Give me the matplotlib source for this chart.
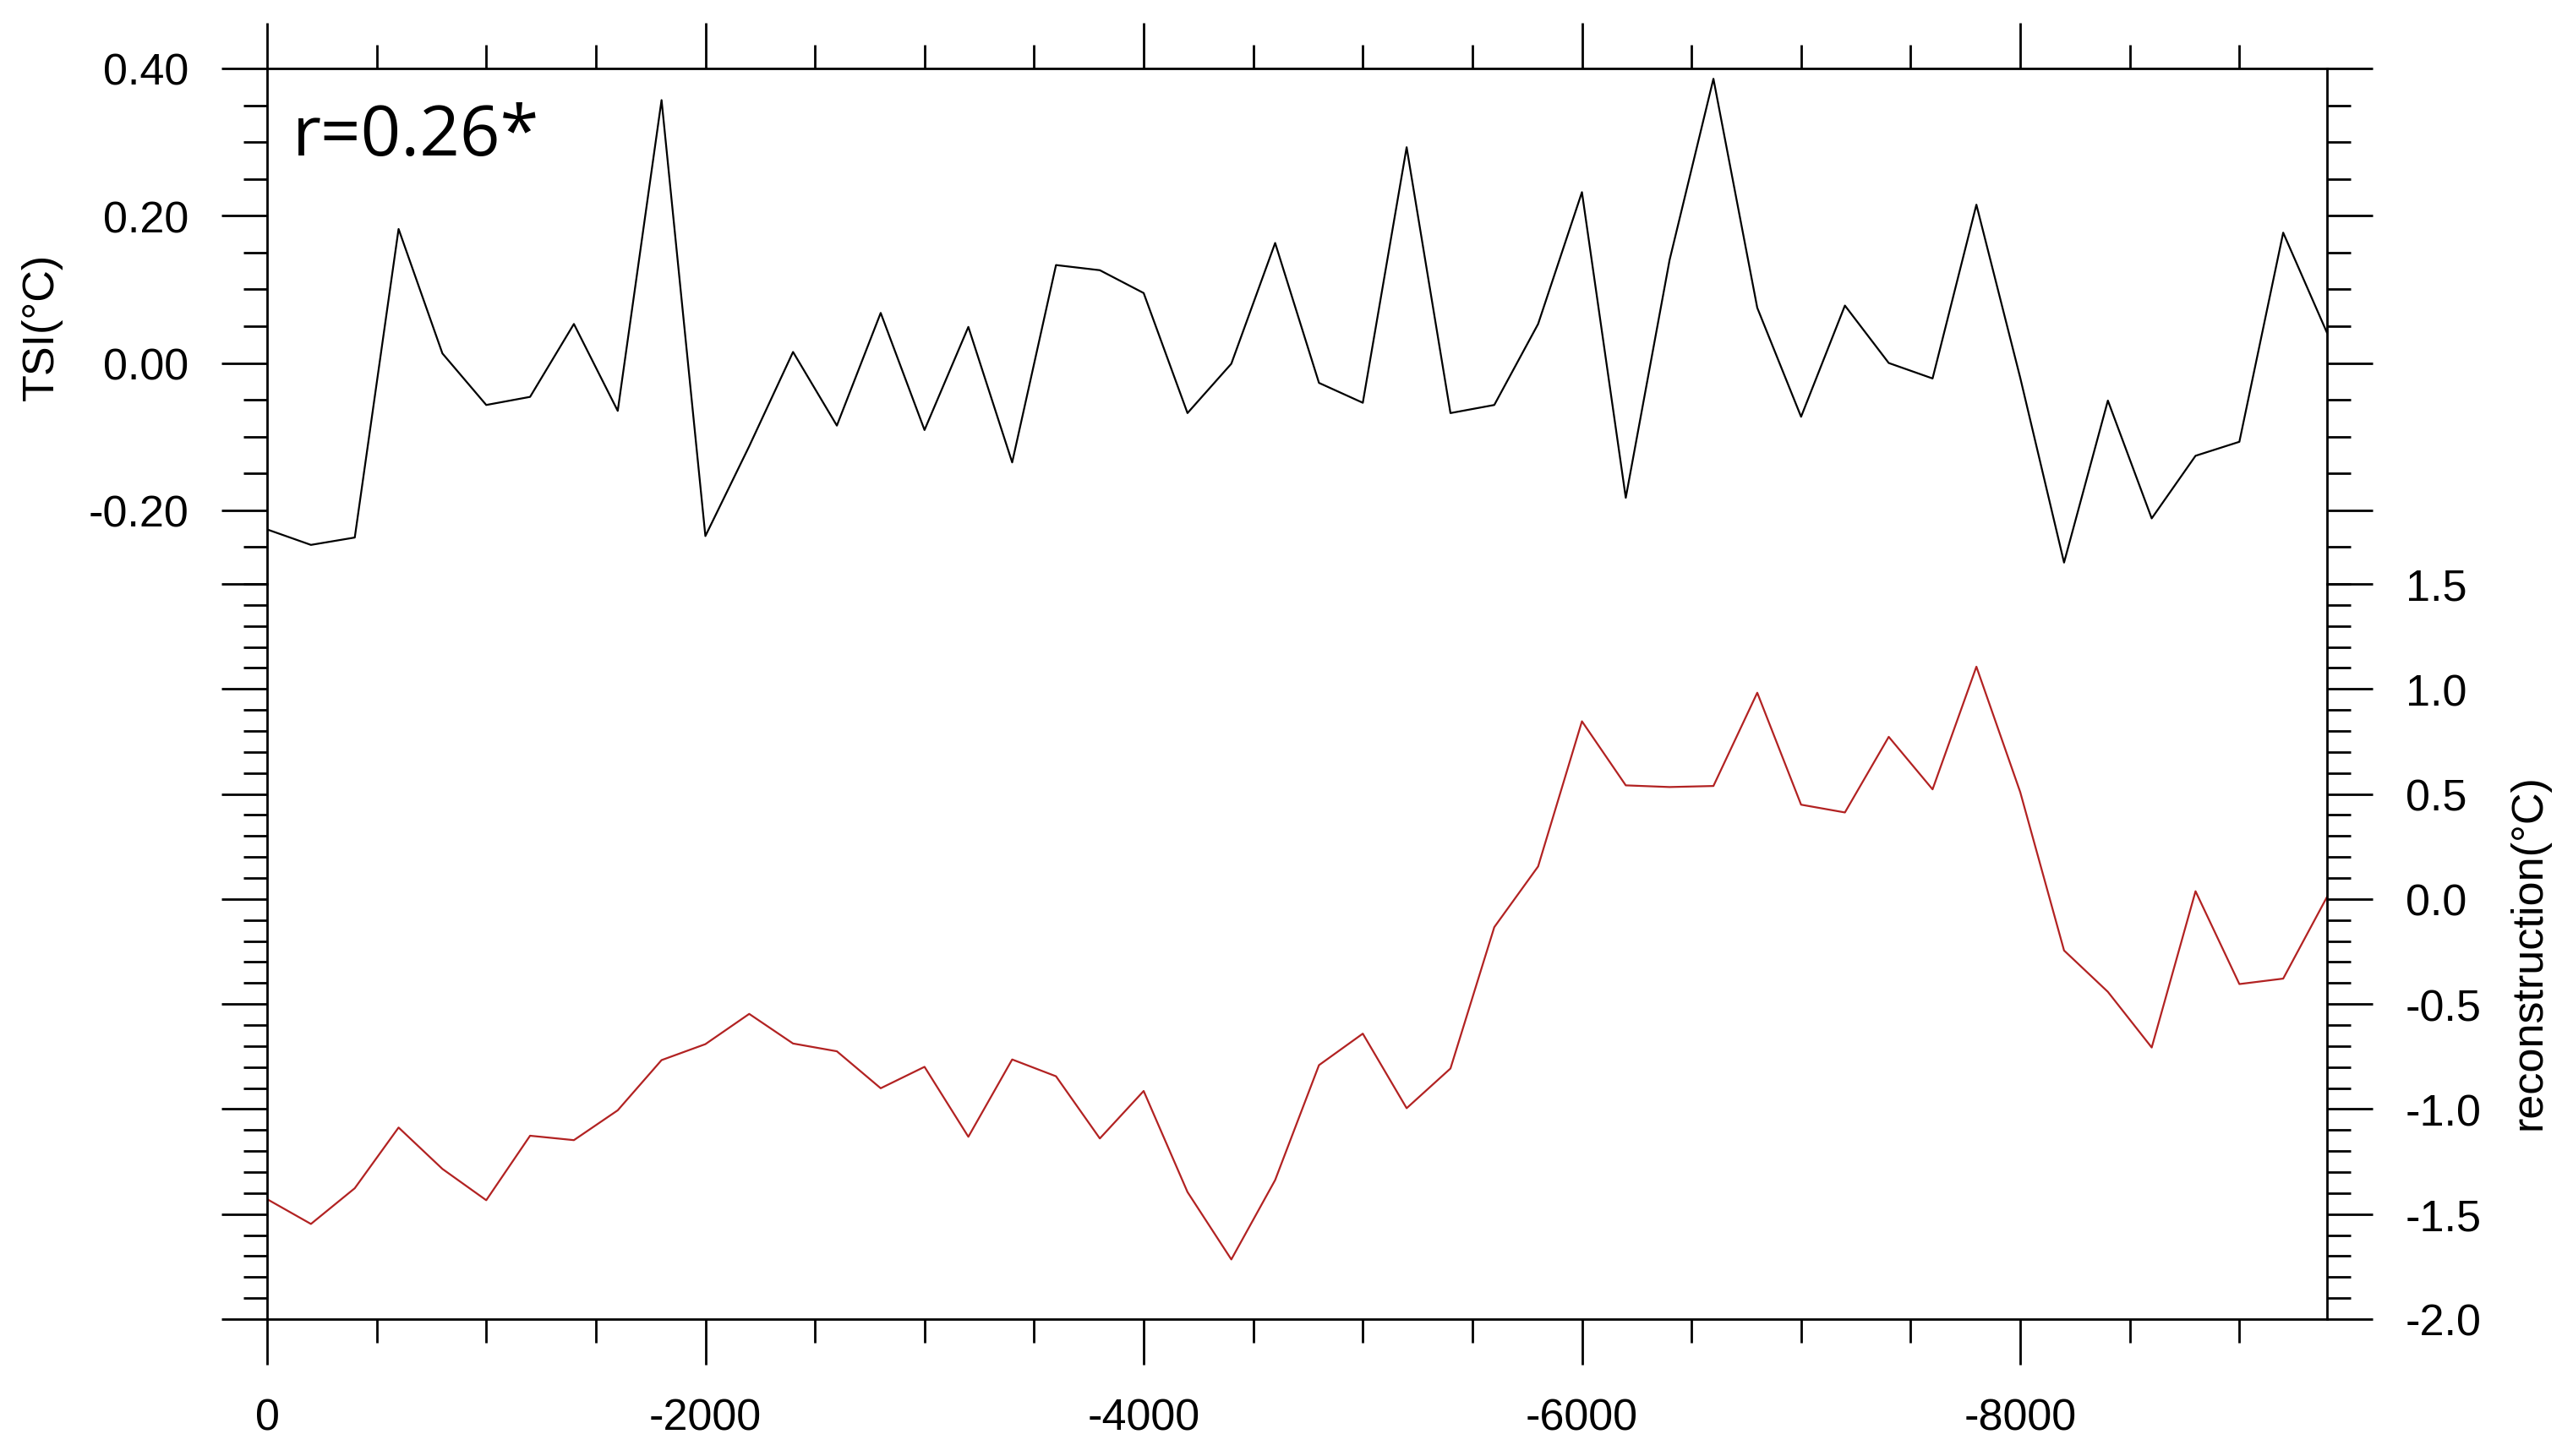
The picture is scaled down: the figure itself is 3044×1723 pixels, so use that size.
import matplotlib
matplotlib.use("Agg")
import matplotlib.pyplot as plt
import numpy as np
from matplotlib.ticker import MultipleLocator, FormatStrFormatter

plt.rcParams['font.family'] = ['Liberation Sans', 'DejaVu Sans']
plt.rcParams['axes.unicode_minus'] = False

# years (BP style, 0 to -9400 every 200 yr)
years = np.arange(0, -9401, -200)

# TSI-driven temperature (left axis)
tsi = [-0.226, -0.247, -0.237, 0.182, 0.013, -0.057, -0.046, 0.053, -0.065, 0.357,
       -0.235, -0.113, 0.015, -0.085, 0.068, -0.091, 0.049, -0.135, 0.133, 0.126,
       0.095, -0.068, -0.001, 0.163, -0.027, -0.054, 0.293, -0.068, -0.057, 0.053,
       0.232, -0.183, 0.140, 0.386, 0.075, -0.073, 0.078, 0.000, -0.021, 0.215,
       -0.020, -0.271, -0.051, -0.211, -0.126, -0.107, 0.177, 0.041]

# reconstruction (right axis)
recon = [-1.429, -1.547, -1.377, -1.088, -1.285, -1.434, -1.127, -1.148, -1.006, -0.767,
         -0.691, -0.547, -0.688, -0.725, -0.901, -0.799, -1.132, -0.764, -0.844, -1.140,
         -0.914, -1.395, -1.716, -1.338, -0.791, -0.641, -0.996, -0.807, -0.134, 0.155,
         0.846, 0.541, 0.533, 0.538, 0.982, 0.449, 0.412, 0.772, 0.522, 1.106,
         0.509, -0.245, -0.442, -0.707, 0.037, -0.405, -0.379, 0.010]

fs = 37.5
lw_ax = 2.0

fig = plt.figure(figsize=(30.44, 17.24), dpi=100)
left, width = 0.10381, 0.80059
ax1 = fig.add_axes([left, 0.59861, width, 0.35383])   # TSI part
ax2 = fig.add_axes([left, 0.09397, width, 0.50464])   # reconstruction part

ax1.plot(years, tsi, color='black', lw=1.6)
ax2.plot(years, recon, color='#B22222', lw=1.6)

for ax in (ax1, ax2):
    ax.set_xlim(0, -9400)
    ax.patch.set_alpha(0)
    for s in ax.spines.values():
        s.set_linewidth(lw_ax)
    ax.xaxis.set_major_locator(MultipleLocator(2000))
    ax.xaxis.set_minor_locator(MultipleLocator(500))
    ax.tick_params(which='major', direction='out', length=38.9, width=lw_ax,
                   labelsize=fs, pad=28)
    ax.tick_params(which='minor', direction='out', length=20, width=lw_ax)

# upper panel
ax1.set_ylim(-0.30, 0.40)
ax1.spines['bottom'].set_visible(False)
ax1.yaxis.set_major_locator(MultipleLocator(0.2))
ax1.yaxis.set_minor_locator(MultipleLocator(0.05))
ax1.yaxis.set_major_formatter(FormatStrFormatter('%.2f'))
ax1.tick_params(which='both', top=True, bottom=False, labeltop=False, labelbottom=False,
                left=True, right=True, labelleft=True, labelright=False)
ax1.set_ylabel('TSI(°C)', fontsize=fs, labelpad=22)

# lower panel
ax2.set_ylim(-2.0, 1.5)
ax2.spines['top'].set_visible(False)
ax2.yaxis.set_major_locator(MultipleLocator(0.5))
ax2.yaxis.set_minor_locator(MultipleLocator(0.1))
ax2.yaxis.set_major_formatter(FormatStrFormatter('%.1f'))
ax2.xaxis.set_major_formatter(FormatStrFormatter('%d'))
ax2.tick_params(which='both', top=False, bottom=True, labelbottom=True,
                left=True, right=True, labelleft=False, labelright=True)
ax2.yaxis.set_label_position('right')
ax2.set_ylabel('reconstruction(°C)', fontsize=fs, labelpad=23)

fig.text(346 / 3044, 1 - 184 / 1724, 'r=0.26*', fontsize=60, family='Open Sans',
         ha='left', va='baseline')

fig.savefig('out.png', dpi=100)
